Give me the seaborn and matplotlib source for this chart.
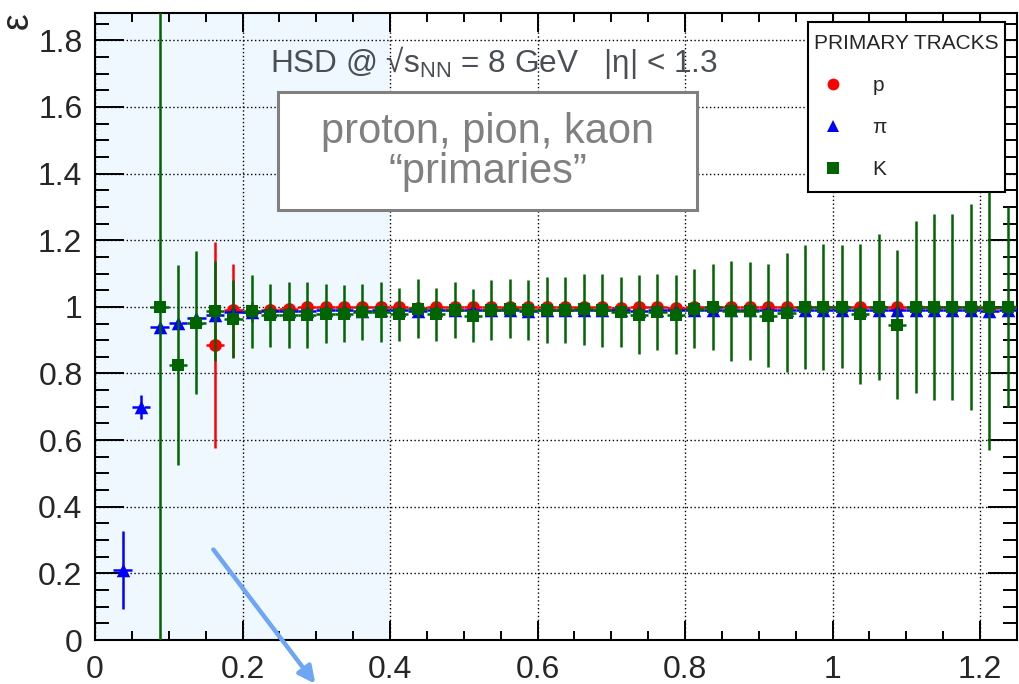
import numpy as np
import pandas as pd
import matplotlib
matplotlib.use("Agg")
import matplotlib.pyplot as plt
from matplotlib.lines import Line2D
from matplotlib.patches import Rectangle
from matplotlib.ticker import MultipleLocator, FuncFormatter
import seaborn as sns

# bin centres in pT (GeV/c), bin half width 0.0125
pt_bins = [0.0375, 0.0625, 0.0875, 0.1125, 0.1375, 0.1625, 0.1875, 0.2125, 0.2375, 0.2625,
           0.2875, 0.3125, 0.3375, 0.3625, 0.3875, 0.4125, 0.4375, 0.4625, 0.4875, 0.5125,
           0.5375, 0.5625, 0.5875, 0.6125, 0.6375, 0.6625, 0.6875, 0.7125, 0.7375, 0.7625,
           0.7875, 0.8125, 0.8375, 0.8625, 0.8875, 0.9125, 0.9375, 0.9625, 0.9875, 1.0125,
           1.0375, 1.0625, 1.0875, 1.1125, 1.1375, 1.1625, 1.1875, 1.2125, 1.2375]
nan = np.nan

proton_eff = [nan, nan, nan, nan, nan, 0.885, 0.99, 0.985, 0.99, 0.993,
              1.0, 1.0, 1.0, 1.0, 1.0, 1.0, 0.998, 1.0, 1.0, 1.0,
              1.0, 1.0, 1.0, 1.0, 1.0, 1.0, 1.0, 0.998, 1.0, 1.0,
              0.998, 1.0, 1.0, 1.0, 1.0, 1.0, 1.0, 1.0, 1.0, 1.0,
              1.0, 1.0, 1.0, 1.0, 1.0, 1.0, 1.0, 0.998, 1.0]
proton_err = [nan, nan, nan, nan, nan, 0.31, 0.14, 0.03, 0.02, 0.015,
              0.01, 0.01, 0.008, 0.008, 0.008, 0.008, 0.008, 0.008, 0.008, 0.008,
              0.008, 0.008, 0.008, 0.008, 0.008, 0.008, 0.008, 0.008, 0.008, 0.008,
              0.008, 0.008, 0.008, 0.008, 0.008, 0.008, 0.008, 0.008, 0.008, 0.008,
              0.008, 0.008, 0.008, 0.008, 0.008, 0.008, 0.008, 0.008, 0.008]

pion_eff = [0.21, 0.70, 0.94, 0.952, 0.968, 0.977, 0.985, 0.985, 0.987, 0.988,
            0.989, 0.99, 0.99, 0.989, 0.99, 0.99, 0.988, 0.99, 0.99, 0.99,
            0.99, 0.99, 0.989, 0.99, 0.99, 0.99, 0.99, 0.99, 0.989, 0.99,
            0.99, 0.99, 0.992, 0.99, 0.99, 0.99, 0.991, 0.99, 0.992, 0.99,
            0.99, 0.99, 0.992, 0.99, 0.992, 0.99, 0.99, 0.988, 0.99]
pion_err = [0.116, 0.036, 0.012, 0.01, 0.008, 0.007, 0.006, 0.005, 0.005, 0.005,
            0.005, 0.005, 0.005, 0.005, 0.005, 0.005, 0.005, 0.005, 0.005, 0.005,
            0.006, 0.006, 0.006, 0.006, 0.006, 0.006, 0.006, 0.006, 0.007, 0.007,
            0.007, 0.007, 0.007, 0.008, 0.008, 0.008, 0.008, 0.008, 0.009, 0.009,
            0.009, 0.01, 0.01, 0.01, 0.01, 0.011, 0.011, 0.012, 0.012]

kaon_eff = [nan, nan, 1.0, 0.825, 0.952, 0.988, 0.963, 0.987, 0.975, 0.975,
            0.975, 0.98, 0.98, 0.985, 0.985, 0.978, 0.995, 0.978, 0.99, 0.973,
            0.99, 0.995, 0.99, 0.99, 0.99, 0.993, 0.99, 0.985, 0.977, 0.985,
            0.977, 0.995, 1.0, 0.988, 0.988, 0.973, 0.983, 1.0, 1.0, 1.0,
            0.978, 1.0, 0.947, 1.0, 1.0, 1.0, 1.0, 1.0, 1.0]
kaon_err = [nan, nan, 1.0, 0.3, 0.215, 0.15, 0.117, 0.11, 0.095, 0.1,
            0.1, 0.09, 0.085, 0.085, 0.09, 0.08, 0.09, 0.08, 0.085, 0.08,
            0.09, 0.09, 0.09, 0.1, 0.1, 0.107, 0.11, 0.105, 0.12, 0.115,
            0.12, 0.12, 0.13, 0.15, 0.148, 0.155, 0.18, 0.187, 0.19, 0.185,
            0.21, 0.22, 0.225, 0.258, 0.28, 0.28, 0.31, 0.43, 0.3]

half_bin = 0.0125

sns.set_style("ticks")
plt.rcParams['font.family'] = ['Liberation Sans', 'DejaVu Sans']
plt.rcParams['mathtext.default'] = 'regular'

rows = []
for name, eff, err in [("p", proton_eff, proton_err), ("π", pion_eff, pion_err), ("K", kaon_eff, kaon_err)]:
    for x, v, e in zip(pt_bins, eff, err):
        rows.append({"particle": name, "pt": x, "eff": v, "err": e})
df = pd.DataFrame(rows)

styles = {
    "p": dict(color="#ff0000", marker="o", s=85, z=3),
    "π": dict(color="#0000ff", marker="^", s=95, z=4),
    "K": dict(color="#006400", marker="s", s=78, z=5),
}

fig = plt.figure(figsize=(10.19, 6.84), dpi=100)
ax = fig.add_axes([95 / 1019, 44 / 684, 922 / 1019, 627 / 684])

ax.axvspan(0, 0.4, color="#f0f8ff", zorder=0, lw=0)

for name, st in styles.items():
    sub = df[df.particle == name]
    eb = ax.errorbar(sub.pt, sub.eff, xerr=half_bin, yerr=sub.err, fmt="none",
                     ecolor=st["color"], elinewidth=1.8, capsize=0, zorder=st["z"])
    if name == "π":
        eb.lines[2][0].set_linestyle((0, (3, 2)))
    sns.scatterplot(data=sub, x="pt", y="eff", color=st["color"], marker=st["marker"],
                    s=st["s"], linewidth=0, ax=ax, zorder=st["z"] + 0.5, legend=False)

ax.set_xlim(0, 1.25)
ax.set_ylim(0, 1.882)
ax.set_xlabel("")
ax.set_ylabel("")

ax.xaxis.set_major_locator(MultipleLocator(0.2))
ax.xaxis.set_minor_locator(MultipleLocator(0.05))
ax.yaxis.set_major_locator(MultipleLocator(0.2))
ax.yaxis.set_minor_locator(MultipleLocator(0.05))
fmt = FuncFormatter(lambda v, pos: f"{v:g}")
ax.xaxis.set_major_formatter(fmt)
ax.yaxis.set_major_formatter(fmt)

ax.tick_params(which="both", direction="in", top=True, right=True, width=1.4, color="black")
ax.tick_params(axis="y", which="major", length=21, labelsize=23, pad=9)
ax.tick_params(axis="y", which="minor", length=10)
ax.tick_params(axis="x", which="major", length=14, labelsize=23, pad=11)
ax.tick_params(axis="x", which="minor", length=6.5)
for sp in ax.spines.values():
    sp.set_linewidth(1.5)
    sp.set_color("black")

ax.set_axisbelow(True)
ax.grid(True, which="major", linestyle=(0, (1, 1.8)), color="black", linewidth=1.0)

# annotations
ax.text(0.2373, 1.705, "HSD @ √s$_{NN}$ = 8 GeV   |η| < 1.3", fontsize=22.7,
        color="#4a4f55", ha="left", va="baseline", zorder=6)
ax.add_patch(Rectangle((0.248, 1.29), 0.568, 0.355, facecolor="white",
                       edgecolor="#808080", linewidth=2.2, zorder=6))
ax.text(0.532, 1.465, "proton, pion, kaon\n\u201cprimaries\u201d", fontsize=30,
        color="#808080", ha="center", va="center", linespacing=1.0, zorder=7)

fig.text(18 / 1019, 1 - 21 / 684, "ε", rotation=90, fontsize=27, ha="center", va="center")

ax.annotate("", xy=(317 / 1019, -2 / 684), xytext=(211.7 / 1019, 1 - 547.3 / 684),
            xycoords="figure fraction", textcoords="figure fraction",
            arrowprops=dict(arrowstyle="-|>", color="#6ea6f5", lw=3.2, mutation_scale=25),
            annotation_clip=False, zorder=8)

handles = [Line2D([], [], linestyle="none", marker=st["marker"], color=st["color"],
                  markersize=8.5, markeredgewidth=0) for st in styles.values()]
leg = ax.legend(handles, list(styles.keys()), title="PRIMARY TRACKS", fontsize=15,
                title_fontsize=15, loc="upper left",
                bbox_to_anchor=(0.773, 0.7225, 0.214, 0.2635), mode="expand",
                borderaxespad=0, borderpad=0.6, handlelength=1.2, handletextpad=1.3,
                labelspacing=1.1, frameon=True, fancybox=False, framealpha=1,
                edgecolor="black")
leg.get_frame().set_linewidth(1.5)
leg.set_zorder(10)

fig.savefig("out.png", dpi=100)
